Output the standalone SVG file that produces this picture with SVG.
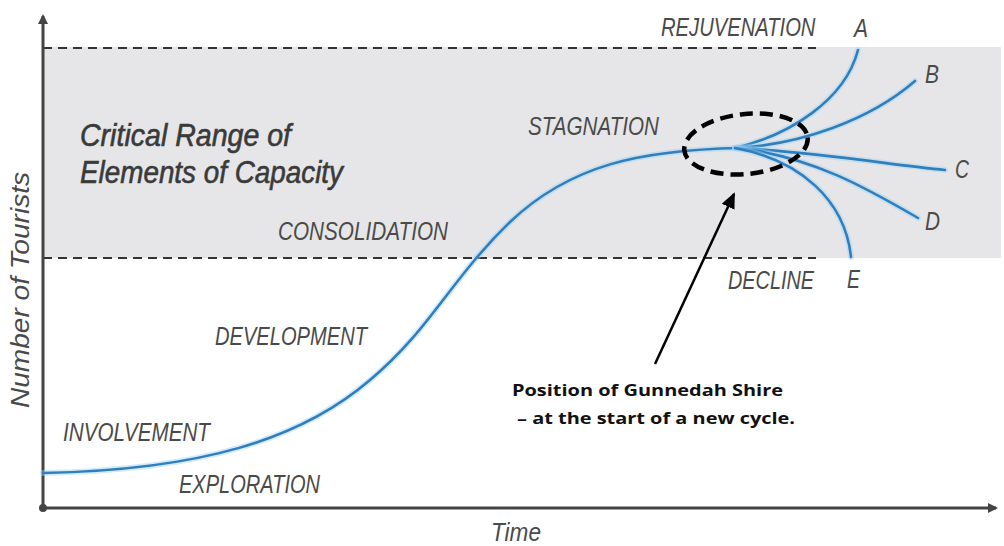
<svg xmlns="http://www.w3.org/2000/svg" width="1004" height="546" viewBox="0 0 1004 546">
<style>
.lbl{font-family:"Liberation Sans",Arial,sans-serif;font-style:italic;fill:#4a4a4a;font-size:26px;}
.big{font-family:"Liberation Sans",Arial,sans-serif;font-style:italic;fill:#3a3a3a;font-size:31px;stroke:#3a3a3a;stroke-width:0.6;}
.note{font-family:"Open Sans","Liberation Sans",Arial,sans-serif;font-weight:bold;fill:#111;font-size:16px;}
.dash{stroke:#333;stroke-width:2.2;stroke-dasharray:9 6;fill:none;}
.curve{fill:none;stroke:#2f7fbf;stroke-width:2.6;stroke-linecap:round;}
.glow{fill:none;stroke:#9fd3f5;stroke-width:6;stroke-opacity:0.45;stroke-linecap:round;}
.axis{stroke:#444;stroke-width:3;fill:none;}
</style>
<defs>
<marker id="ah" markerWidth="10" markerHeight="10" refX="8" refY="5" orient="auto" markerUnits="userSpaceOnUse">
<path d="M0,0 L10,5 L0,10 z" fill="#444"/>
</marker>
<marker id="ptr" markerWidth="16" markerHeight="16" refX="14" refY="8" orient="auto" markerUnits="userSpaceOnUse">
<path d="M0,1 L16,8 L0,15 z" fill="#000"/>
</marker>
</defs>
<rect width="1004" height="546" fill="#fff"/>
<g id="band">
<rect x="43" y="47" width="958" height="211" fill="#e6e6e8"/>
<line class="dash" x1="43" y1="48" x2="816" y2="48"/>
<line class="dash" x1="43" y1="258" x2="816" y2="258"/>
</g>
<g id="axes">
<line class="axis" x1="43" y1="508" x2="43" y2="16" marker-end="url(#ah)"/>
<line class="axis" x1="43" y1="508" x2="996" y2="508" marker-end="url(#ah)"/>
<circle cx="43" cy="508" r="4" fill="#444"/>
<text class="lbl" x="491" y="541" font-size="23" textLength="50" lengthAdjust="spacingAndGlyphs">Time</text>
<text class="lbl" transform="translate(29,290) rotate(-90)" text-anchor="middle" font-size="23" textLength="236" lengthAdjust="spacingAndGlyphs">Number of Tourists</text>
</g>
<g id="connectors">
<path class="glow" d="M43,473 C200,470 300,440 370,380 C430,330 450,280 510,222 C570,165 640,150 740,148"/>
<path class="curve" d="M43,473 C200,470 300,440 370,380 C430,330 450,280 510,222 C570,165 640,150 740,148"/>
<g>
<path class="glow" d="M735,148 C790,135 845,100 858,50"/>
<path class="curve" d="M735,148 C790,135 845,100 858,50"/>
<path class="glow" d="M735,148 C800,145 870,120 915,81"/>
<path class="curve" d="M735,148 C800,145 870,120 915,81"/>
<path class="glow" d="M735,148 C820,152 890,165 945,170"/>
<path class="curve" d="M735,148 C820,152 890,165 945,170"/>
<path class="glow" d="M735,148 C810,155 870,190 918,218"/>
<path class="curve" d="M735,148 C810,155 870,190 918,218"/>
<path class="glow" d="M735,148 C800,160 845,200 851,257"/>
<path class="curve" d="M735,148 C800,160 845,200 851,257"/>
</g>
<ellipse cx="746" cy="144" rx="62" ry="30" transform="rotate(-6 746 144)" fill="none" stroke="#000" stroke-width="4.5" stroke-dasharray="13 7"/>
<line x1="655" y1="364" x2="734" y2="194" stroke="#000" stroke-width="2.5" marker-end="url(#ptr)"/>
</g>
<g id="stages">
<text class="lbl" transform="translate(661,36) scale(0.777,1)" x="0" y="0">REJUVENATION</text>
<text class="lbl" x="528" y="135" textLength="131" lengthAdjust="spacingAndGlyphs">STAGNATION</text>
<text class="lbl" x="278" y="240" textLength="170" lengthAdjust="spacingAndGlyphs">CONSOLIDATION</text>
<text class="lbl" x="215" y="345" textLength="152" lengthAdjust="spacingAndGlyphs">DEVELOPMENT</text>
<text class="lbl" x="63" y="441" textLength="147" lengthAdjust="spacingAndGlyphs">INVOLVEMENT</text>
<text class="lbl" x="179" y="493" textLength="141" lengthAdjust="spacingAndGlyphs">EXPLORATION</text>
<text class="lbl" x="728" y="289" textLength="86" lengthAdjust="spacingAndGlyphs">DECLINE</text>
</g>
<g id="branches">
<text class="lbl" x="854" y="37" textLength="14" lengthAdjust="spacingAndGlyphs">A</text>
<text class="lbl" x="925" y="83" textLength="14" lengthAdjust="spacingAndGlyphs">B</text>
<text class="lbl" x="955" y="178" textLength="14" lengthAdjust="spacingAndGlyphs">C</text>
<text class="lbl" x="925" y="230" textLength="15" lengthAdjust="spacingAndGlyphs">D</text>
<text class="lbl" x="847" y="288" textLength="13" lengthAdjust="spacingAndGlyphs">E</text>
</g>
<g id="critical">
<text class="big" x="80" y="146" textLength="211" lengthAdjust="spacingAndGlyphs">Critical Range of</text>
<text class="big" x="80" y="183" textLength="263" lengthAdjust="spacingAndGlyphs">Elements of Capacity</text>
</g>
<g id="note">
<text class="note" x="512" y="396" textLength="271" lengthAdjust="spacingAndGlyphs">Position of Gunnedah Shire</text>
<text class="note" x="517" y="424" textLength="278" lengthAdjust="spacingAndGlyphs">– at the start of a new cycle.</text>
</g>
</svg>
